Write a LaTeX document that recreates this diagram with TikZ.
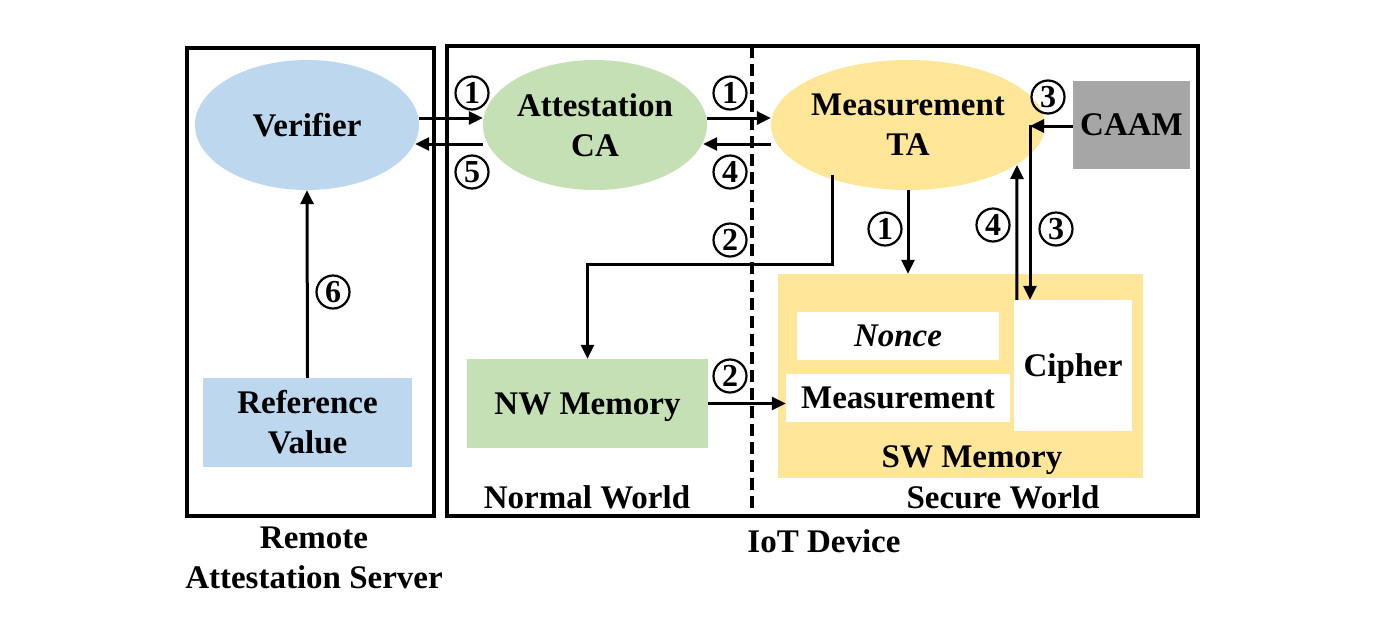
\documentclass[tikz,border=0pt]{standalone}
\usepackage{fontspec}
\setmainfont{Liberation Serif}
\usetikzlibrary{shapes.geometric,arrows.meta}
\definecolor{vblue}{HTML}{BDD7EE}
\definecolor{cgreen}{HTML}{C5E0B4}
\definecolor{tyellow}{HTML}{FFE699}
\definecolor{cgray}{HTML}{A6A6A6}
\tikzset{
 lbl/.style={font=\fontsize{33}{40}\selectfont\bfseries, align=center},
 ell/.style={ellipse, inner sep=0, minimum width=224pt, minimum height=130pt, lbl},
 rbox/.style={rectangle, inner sep=0, lbl},
 nodepth/.style={text depth=0pt},
 frame/.style={rectangle, draw, line width=3.8pt, inner sep=0},
 arr/.style={line width=3pt, -{Triangle[length=14pt,width=13pt]}},
 num/.style={circle, draw, line width=2.2pt, inner sep=0, minimum size=33pt, font=\fontsize{32}{32}\selectfont\bfseries},
}
\begin{document}
\begin{tikzpicture}[x=1pt,y=-1pt]
\useasboundingbox (0,0) rectangle (1395,630);
% frames
\node[frame, minimum width=247pt, minimum height=468pt] (ras) at (310.5,282) {};
\node[frame, minimum width=751pt, minimum height=470pt] (iot) at (822.5,281) {};
\coordinate (dtop) at (752,46);
\coordinate (dbot) at (752,516);
\draw[line width=3.5pt, dash pattern=on 12pt off 6pt] (dtop) -- (dbot);

% main nodes
\node[ell, fill=vblue] (ver) at (307,125) {Verifier};
\node[ell, fill=cgreen] (ca) at (595,125) {Attestation\\CA};
\node[ell, fill=tyellow, minimum width=242pt] (ta) at (908,125) {Measurement\\TA};
\node[rbox, fill=cgray, minimum width=117pt, minimum height=88pt] (caam) at (1131.5,125) {CAAM};
\node[rbox, fill=vblue, minimum width=209pt, minimum height=89pt] (ref) at (307.5,422.5) {Reference\\Value};
\node[rbox, nodepth, fill=cgreen, minimum width=241pt, minimum height=89pt] (nw) at (587.5,403.5) {NW Memory};
\node[rbox, fill=tyellow, minimum width=365pt, minimum height=204pt] (sw) at (960.5,376) {};
\node[lbl, nodepth] (swl) at (972,457) {SW Memory};
\node[rbox, fill=white, minimum width=202pt, minimum height=48pt] (nonce) at (898,336) {\itshape Nonce};
\node[rbox, fill=white, minimum width=224pt, minimum height=48pt] (meas) at (898,398) {Measurement};
\node[rbox, nodepth, fill=white, minimum width=118pt, minimum height=131pt] (cipher) at (1073,365.5) {Cipher};

% labels
\node[lbl] (nwl) at (587,497) {Normal World};
\node[lbl] (swd) at (1003,497) {Secure World};
\node[lbl] (iotl) at (824,541) {IoT Device};
\node[lbl] (rasl) at (314,558) {Remote\\Attestation Server};

% arrows
\draw[arr] ([yshift=7pt]ver.east) -- ([yshift=7pt]ca.west);
\draw[arr] ([yshift=-19pt]ca.west) -- ([xshift=-4pt,yshift=-19pt]ver.east);
\draw[arr] ([yshift=7pt]ca.east) -- ([yshift=7pt]ta.west);
\draw[arr] ([yshift=-19pt]ta.west) -- ([xshift=-4pt,yshift=-19pt]ca.east);
\coordinate (tastart) at (832,175);
\coordinate (bend) at (832,264);
\draw[arr] (tastart) -- (bend) -| (nw.north);
\draw[arr] (nw.east) -- (nw.east -| meas.west);
\draw[arr] (ta.south) -- (ta.south |- sw.north);
\coordinate (up4) at (1017,165);
\draw[arr] ([xshift=3pt]cipher.north west) -- (up4);
\coordinate (j) at (1030,126);
\draw[arr] ([yshift=-1pt]caam.west) -- (j);
\draw[arr, line cap=rect] (j) -- (j |- cipher.north);
\draw[arr] (ref.north) -- (ver.south);

% circled numbers
\node[num] (n1a) at (472,93) {1};
\node[num] (n5) at (472,172) {5};
\node[num] (n1b) at (730,93) {1};
\node[num] (n4a) at (730,172) {4};
\node[num] (n2a) at (730,240) {2};
\node[num] (n2b) at (730,376) {2};
\node[num] (n1c) at (885,229) {1};
\node[num] (n4b) at (993,225) {4};
\node[num] (n3b) at (1056,229) {3};
\node[num] (n3a) at (1048,97) {3};
\node[num] (n6) at (333,292) {6};
\end{tikzpicture}
\end{document}
